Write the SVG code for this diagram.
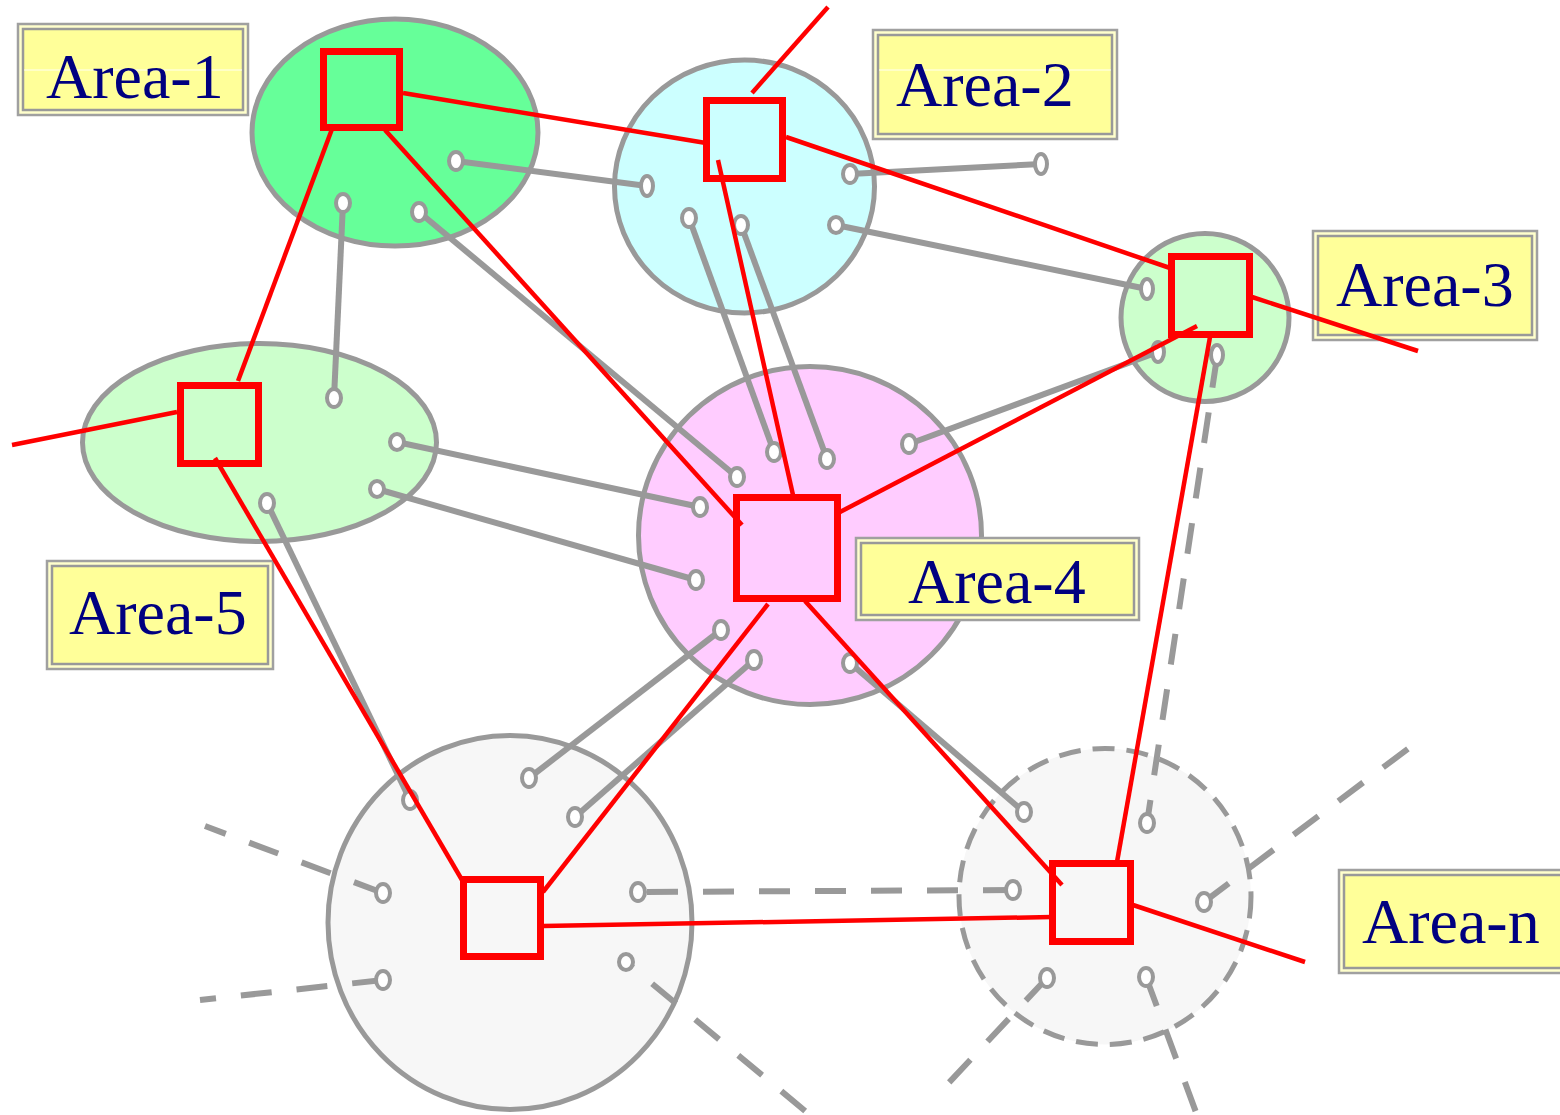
<svg xmlns="http://www.w3.org/2000/svg" width="1560" height="1115" viewBox="0 0 1560 1115">
  <style>
    .area{stroke:#999999;stroke-width:5}
    .dashed-area{stroke-dasharray:22 12}
    .lbl-o{fill:#FFFFCC;stroke:#A0A0A0;stroke-width:2.5}
    .lbl-i{fill:#FFFF99;stroke:#999999;stroke-width:2.5}
    .lbl-t{font-family:"Liberation Serif","Times New Roman",serif;font-size:64px;fill:#000080}
    .sheen{stroke:#ffffff;stroke-width:1.2;opacity:0.9}
    .router{fill:none;stroke:#FF0000;stroke-width:7}
    .link{fill:none;stroke:#999999;stroke-width:6}
    .dash{stroke-dasharray:31 25}
    .port{fill:#ffffff;stroke:#999999;stroke-width:4}
    .trunk{fill:none;stroke:#FF0000;stroke-width:4.5}
  </style>
  <rect width="1560" height="1115" fill="#ffffff"/>

  <!-- areas -->
  <g id="area-1">
    <ellipse class="area" cx="395" cy="132.5" rx="143" ry="113.5" fill="#66FF99"/>
    <rect class="router" x="323.5" y="51.5" width="76" height="76"/>
    <rect class="lbl-o" x="18" y="24" width="230" height="91"/>
    <rect class="lbl-i" x="23" y="29" width="220" height="81"/>
    <line class="sheen" x1="24" y1="70" x2="242" y2="70"/>
    <text class="lbl-t" x="46" y="98">Area-1</text>
  </g>
  <g id="area-2">
    <ellipse class="area" cx="744.5" cy="186.5" rx="130" ry="126.5" fill="#CCFFFF"/>
    <rect class="router" x="706.5" y="100.5" width="76" height="78"/>
    <rect class="lbl-o" x="873" y="30" width="244" height="109"/>
    <rect class="lbl-i" x="878" y="35" width="234" height="99"/>
    <line class="sheen" x1="879" y1="70" x2="1111" y2="70"/>
    <text class="lbl-t" x="896" y="106">Area-2</text>
  </g>
  <g id="area-3">
    <ellipse class="area" cx="1205" cy="317.5" rx="84" ry="84" fill="#CCFFCC"/>
    <rect class="router" x="1171.5" y="256.5" width="78" height="78"/>
    <rect class="lbl-o" x="1313" y="231" width="224" height="109"/>
    <rect class="lbl-i" x="1318" y="236" width="214" height="99"/>
    <text class="lbl-t" x="1336" y="306">Area-3</text>
  </g>
  <g id="area-4">
    <ellipse class="area" cx="810" cy="535.5" rx="171.5" ry="169" fill="#FFCCFF"/>
    <rect class="router" x="736.5" y="497.5" width="101" height="101"/>
    <rect class="lbl-o" x="856" y="538" width="283" height="82"/>
    <rect class="lbl-i" x="861" y="543" width="273" height="72"/>
    <text class="lbl-t" x="908" y="603">Area-4</text>
  </g>
  <g id="area-5">
    <ellipse class="area" cx="259.5" cy="442.5" rx="177" ry="99" fill="#CCFFCC"/>
    <rect class="router" x="180.5" y="385.5" width="78" height="78"/>
    <rect class="lbl-o" x="47" y="561" width="226" height="108"/>
    <rect class="lbl-i" x="52" y="566" width="216" height="98"/>
    <text class="lbl-t" x="69" y="634">Area-5</text>
  </g>
  <g id="area-6">
    <ellipse class="area" cx="510" cy="922.5" rx="182" ry="187" fill="#F7F7F7"/>
    <rect class="router" x="463.5" y="879.5" width="77" height="77"/>
  </g>
  <g id="area-n">
    <ellipse class="area dashed-area" cx="1105" cy="896.5" rx="146" ry="148" fill="#F7F7F7"/>
    <rect class="router" x="1052.5" y="863.5" width="78" height="78"/>
    <rect class="lbl-o" x="1339" y="870" width="232" height="103"/>
    <rect class="lbl-i" x="1344" y="875" width="222" height="93"/>
    <text class="lbl-t" x="1362" y="943">Area-n</text>
  </g>

  <!-- connectors -->
  <g id="connectors">
    <g id="links">
      <path class="link" d="M456,161 L647,186"/>
      <path class="link" d="M343,203 L334,398"/>
      <path class="link" d="M419,212 L737,477"/>
      <path class="link" d="M850,174 L1041,164"/>
      <path class="link" d="M836,225 L1147,289"/>
      <path class="link" d="M689,218 L774,452"/>
      <path class="link" d="M741,225 L827,459"/>
      <path class="link" d="M1158,352 L909,444"/>
      <path class="link" d="M700,507 L397,442"/>
      <path class="link" d="M696,580 L377,489"/>
      <path class="link" d="M721,630 L529,778"/>
      <path class="link" d="M754,660 L575,817"/>
      <path class="link" d="M850,663 L1024,812"/>
      <path class="link" d="M267,503 L410,800"/>
      <path class="link dash" d="M1217,357 L1147,823"/>
      <path class="link dash" d="M383,893 L205,826"/>
      <path class="link dash" d="M383,980 L200,1000"/>
      <path class="link dash" d="M638,892 L1013,890" stroke-dashoffset="-9"/>
      <path class="link dash" d="M626,962 L810,1115" stroke-dashoffset="22"/>
      <path class="link dash" d="M1204,902 L1413,745"/>
      <path class="link dash" d="M1047,978 L942,1090"/>
      <path class="link dash" d="M1146,977 L1197,1115"/>
    </g>
    <g id="ports">
      <ellipse class="port" cx="456" cy="161" rx="7" ry="9"/>
      <ellipse class="port" cx="343" cy="203" rx="7" ry="9"/>
      <ellipse class="port" cx="419" cy="212" rx="7" ry="9"/>
      <ellipse class="port" cx="647" cy="186" rx="6" ry="10"/>
      <ellipse class="port" cx="850" cy="174" rx="7" ry="9"/>
      <ellipse class="port" cx="1041" cy="164" rx="6" ry="10"/>
      <ellipse class="port" cx="836" cy="225" rx="7" ry="8"/>
      <ellipse class="port" cx="1147" cy="289" rx="6" ry="10"/>
      <ellipse class="port" cx="689" cy="218" rx="7" ry="9"/>
      <ellipse class="port" cx="741" cy="225" rx="7" ry="9"/>
      <ellipse class="port" cx="1158" cy="352" rx="6" ry="10"/>
      <ellipse class="port" cx="1217" cy="355" rx="6" ry="10"/>
      <ellipse class="port" cx="737" cy="477" rx="7" ry="9"/>
      <ellipse class="port" cx="774" cy="452" rx="7" ry="9"/>
      <ellipse class="port" cx="827" cy="459" rx="7" ry="9"/>
      <ellipse class="port" cx="909" cy="444" rx="7" ry="9"/>
      <ellipse class="port" cx="700" cy="507" rx="7" ry="9"/>
      <ellipse class="port" cx="696" cy="580" rx="7" ry="9"/>
      <ellipse class="port" cx="721" cy="630" rx="7" ry="9"/>
      <ellipse class="port" cx="754" cy="660" rx="7" ry="9"/>
      <ellipse class="port" cx="850" cy="663" rx="7" ry="9"/>
      <ellipse class="port" cx="334" cy="398" rx="7" ry="9"/>
      <ellipse class="port" cx="397" cy="442" rx="7" ry="8"/>
      <ellipse class="port" cx="377" cy="489" rx="7" ry="8"/>
      <ellipse class="port" cx="267" cy="503" rx="7" ry="9"/>
      <ellipse class="port" cx="529" cy="778" rx="7" ry="9"/>
      <ellipse class="port" cx="575" cy="817" rx="7" ry="9"/>
      <ellipse class="port" cx="410" cy="800" rx="7" ry="9"/>
      <ellipse class="port" cx="383" cy="893" rx="7" ry="9"/>
      <ellipse class="port" cx="383" cy="980" rx="7" ry="9"/>
      <ellipse class="port" cx="638" cy="892" rx="7" ry="9"/>
      <ellipse class="port" cx="626" cy="962" rx="7" ry="8"/>
      <ellipse class="port" cx="1024" cy="812" rx="7" ry="9"/>
      <ellipse class="port" cx="1147" cy="823" rx="7" ry="9"/>
      <ellipse class="port" cx="1013" cy="890" rx="7" ry="9"/>
      <ellipse class="port" cx="1204" cy="902" rx="7" ry="9"/>
      <ellipse class="port" cx="1047" cy="978" rx="7" ry="9"/>
      <ellipse class="port" cx="1146" cy="977" rx="7" ry="9"/>
    </g>
    <g id="trunks">
      <path class="trunk" d="M403,93 L706,143"/>
      <path class="trunk" d="M332,129 L238,381"/>
      <path class="trunk" d="M385,130 L742,525"/>
      <path class="trunk" d="M718,160 L793,495"/>
      <path class="trunk" d="M786,137 L1170,268"/>
      <path class="trunk" d="M752,93 L828,7"/>
      <path class="trunk" d="M1252,297 L1418,351"/>
      <path class="trunk" d="M1197,326 L840,512"/>
      <path class="trunk" d="M1210,337 L1117,862"/>
      <path class="trunk" d="M768,604 L543,892"/>
      <path class="trunk" d="M805,601 L1062,885"/>
      <path class="trunk" d="M215,458 L462,880"/>
      <path class="trunk" d="M177,412 L12,445"/>
      <path class="trunk" d="M543,926 L1052,917"/>
      <path class="trunk" d="M1133,905 L1305,962"/>
    </g>
  </g>
</svg>
